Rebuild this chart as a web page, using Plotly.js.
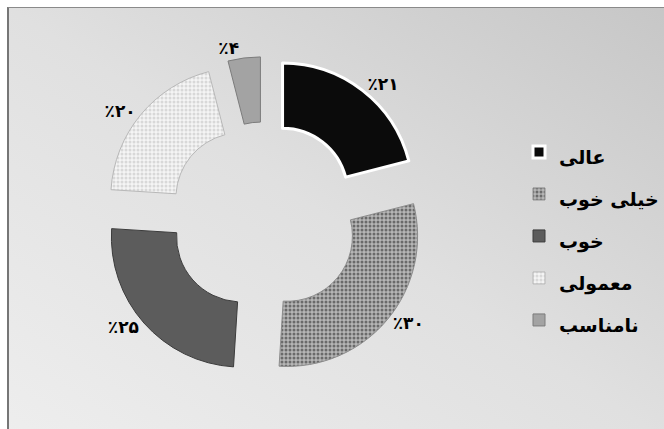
<!DOCTYPE html>
<html>
<head>
<meta charset="utf-8">
<script src="https://cdn.plot.ly/plotly-3.0.1.min.js"></script>
<style>
  html, body { margin: 0; padding: 0; background: #ffffff; }
  #wrap { position: relative; width: 664px; height: 429px; overflow: hidden; background: #ffffff; }
  #bg { position: absolute; left: 7px; top: 7px; width: 670px; height: 440px;
        border-left: 2px solid #767676; border-top: 1px solid #8a8a8a;
        background: linear-gradient(to top right, #eeeeee 0%, #e0e0e0 50%, #c6c6c6 100%); }
  #chart { position: absolute; left: 0; top: 0; width: 664px; height: 429px; }
</style>
</head>
<body>
<div id="wrap">
  <div id="bg"></div>
  <div id="chart"></div>
</div>
<script>
// Data
var categories = ['عالی', 'خیلی خوب', 'خوب', 'معمولی', 'نامناسب'];
var values = [21, 30, 25, 20, 4];

// Styles (kept separate from data)
var sliceColors = ['#0b0b0b', '#b6b6b6', '#5c5c5c', '#f5f5f5', '#a3a3a3'];
var patternShapes = ['', '.', '', '.', ''];
var patternFg = ['#0b0b0b', '#6a6a6a', '#5c5c5c', '#d8d8d8', '#a3a3a3'];
var lineColors = ['#ffffff', '#8c8c8c', '#3c3c3c', '#b8b8b8', '#7c7c7c'];
var lineWidths = [3, 1, 1, 1, 1];

function toPersianDigits(n) {
  var d = '۰۱۲۳۴۵۶۷۸۹';
  return String(n).replace(/[0-9]/g, function (c) { return d[+c]; });
}
// LRO ... PDF keeps the percent sign on the left, as in the original
var labelTexts = values.map(function (v) { return '\u202D٪' + toPersianDigits(v) + '\u202C'; });
var legendLabels = categories.map(function (c) {
  return '<span style="font-size:19px">' + c + '</span>';
});

var trace = {
  type: 'pie',
  labels: legendLabels,
  values: values,
  text: labelTexts,
  textinfo: 'text',
  textposition: 'outside',
  outsidetextfont: { family: 'DejaVu Sans', size: 17, color: '#000000', weight: 'bold' },
  hoverinfo: 'none',
  sort: false,
  direction: 'clockwise',
  rotation: 0,
  hole: 0.5,
  pull: [0.23, 0.23, 0.23, 0.23, 0.23],
  domain: { x: [0.1581, 0.6461], y: [0.1166, 0.8718] },
  marker: {
    colors: sliceColors,
    line: { color: lineColors, width: lineWidths },
    pattern: { shape: patternShapes, fgcolor: patternFg, bgcolor: sliceColors, size: 4, solidity: 0.45 }
  }
};

var layout = {
  width: 664,
  height: 429,
  margin: { l: 0, r: 0, t: 0, b: 0 },
  paper_bgcolor: 'rgba(0,0,0,0)',
  plot_bgcolor: 'rgba(0,0,0,0)',
  showlegend: true,
  legend: {
    x: 0.79, xanchor: 'left',
    y: 0.45, yanchor: 'middle',
    bgcolor: 'rgba(0,0,0,0)',
    font: { family: 'DejaVu Sans', size: 30, color: '#000000', weight: 'bold' }
  }
};

Plotly.newPlot('chart', [trace], layout, { displayModeBar: false, staticPlot: true });
</script>
</body>
</html>
